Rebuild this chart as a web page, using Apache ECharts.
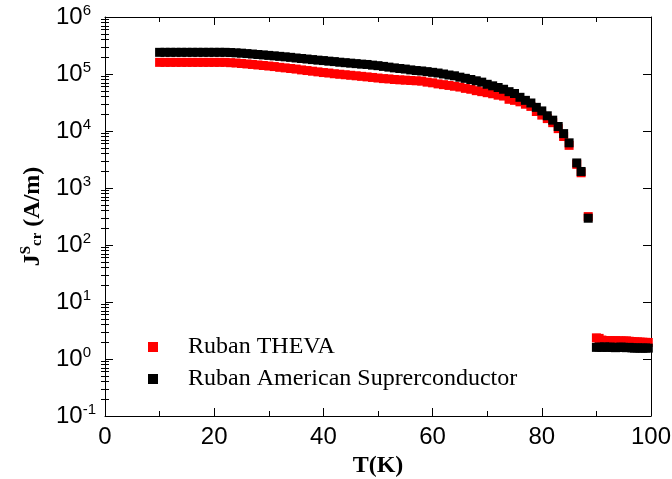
<!DOCTYPE html>
<html>
<head>
<meta charset="utf-8">
<script src="https://cdn.jsdelivr.net/npm/echarts@6/dist/echarts.min.js"></script>
<style>html,body{margin:0;padding:0;background:#fff}#c{width:672px;height:479px}</style>
</head>
<body>
<div id="c"></div>
<script>
// ---- data ----
const tempTheva = [10,11,12,13,14,15,16,17,18,19,20,21,22,23,24,25,26,27,28,29,30,31,32,33,34,35,36,37,38,39,40,41,42,43,44,45,46,47,48,49,50,51,52,53,54,55,56,57,58,59,60,61,62,63,64,65,66,67,68,69,70,71,72,73,74,75,76,77,78,79,80,81,82,83,84,85,86.4,87.2,88.5,90,90.5,91,91.5,92,92.5,93,93.5,94,94.5,95,95.5,96,96.5,97,97.5,98,98.5,99,99.5];
const jTheva = [160000,160000,160000,160000,160000,160000,160000,160000,160000,160000,160000,160000,160000,
  158000,156000,153000,150000,147000,144000,141000,138000,135000,131000,128000,125000,122000,118000,115000,112000,109000,106000,
  104000,101000,99000,97000,95000,93000,91000,89000,87000,85000,83000,82000,80000,79000,78000,77000,76000,75000,72000,70000,
  67000,65000,63000,61000,59000,56000,54000,51000,49000,47000,45000,42500,41000,36000,34500,32500,29500,27000,22000,19000,
  16500,14000,11000,8000,5600,2600,1850,315,
  2.35,2.3,2.15,2.1,2.1,2.1,2.08,2.1,2.08,2.08,2.06,2.08,2.05,2.03,2.0,2.0,1.98,1.97,1.96,1.95];
const tempAmsc = [10,11,12,13,14,15,16,17,18,19,20,21,22,23,24,25,26,27,28,29,30,31,32,33,34,35,36,37,38,39,40,41,42,43,44,45,46,47,48,49,50,51,52,53,54,55,56,57,58,59,60,61,62,63,64,65,66,67,68,69,70,71,72,73,74,75,76,77,78,79,80,81,82,83,84,85,86.4,87.2,88.5,90,90.5,91,91.5,92,92.5,93,93.5,94,94.5,95,95.5,96,96.5,97,97.5,98,98.5,99,99.5];
const jAmsc = [240000,240000,240000,240000,240000,240000,240000,240000,240000,240000,240000,240000,240000,
  238000,235000,232000,228000,224000,220000,216000,212000,208000,204000,200000,196000,191000,187000,183000,179000,175000,172000,
  168000,165000,161000,158000,155000,152000,149000,147000,143000,140000,136000,132000,128000,125000,122000,118000,115000,113000,110000,107000,
  104000,100000,96000,93000,88000,84000,80000,76000,72000,66000,62000,58000,54000,49000,45500,39000,34500,31000,26000,22500,
  18500,15500,12000,9000,6200,2750,1950,295,
  1.6,1.62,1.6,1.63,1.6,1.62,1.6,1.58,1.6,1.62,1.6,1.58,1.6,1.57,1.55,1.57,1.55,1.55,1.56,1.55];
const seriesNames = ['Ruban THEVA', 'Ruban American Suprerconductor'];
const xTickLabels = ['0','20','40','60','80','100'];
const minorMantissas = [2,3,4,5,6,7,8,9];

// ---- chart ----
const sans = 'Liberation Sans, Arial, sans-serif';
const serif = 'Liberation Serif, Times New Roman, serif';
const minorVals = [];
for (let e = -1; e < 6; e++) for (const m of minorMantissas) minorVals.push(m * Math.pow(10, e));

const pairs = (t, v) => t.map((x, i) => [x, v[i]]);

const chart = echarts.init(document.getElementById('c'), null, {renderer: 'canvas'});
chart.setOption({
  animation: false,
  grid: {left: 105, right: 21, top: 17, bottom: 63, outerBoundsMode: 'none'},
  xAxis: [
    {type: 'value', min: 0, max: 100, interval: 20, position: 'bottom',
     axisLine: {show: true, onZero: false, lineStyle: {color: '#000'}},
     axisTick: {show: true, inside: true, length: 8, lineStyle: {color: '#000'}},
     minorTick: {show: true, splitNumber: 2, length: 5, lineStyle: {color: '#000'}},
     splitLine: {show: false},
     axisLabel: {margin: 9, fontSize: 24, fontFamily: sans, color: '#000',
                 formatter: v => xTickLabels[Math.round(v / 20)]},
     name: 'T(K)', nameLocation: 'middle', nameGap: 33,
     nameTextStyle: {fontFamily: serif, fontWeight: 'bold', fontSize: 24, color: '#000'}},
    {type: 'value', min: 0, max: 100, interval: 20, position: 'top',
     axisLine: {show: true, onZero: false, lineStyle: {color: '#000'}},
     axisTick: {show: true, inside: false, length: -8, lineStyle: {color: '#000'}},
     minorTick: {show: true, splitNumber: 2, length: -5, lineStyle: {color: '#000'}},
     splitLine: {show: false}, axisLabel: {show: false}}
  ],
  yAxis: [
    {type: 'log', min: 0.1, max: 1000000, splitNumber: 7, position: 'left',
     axisLine: {show: true, onZero: false, lineStyle: {color: '#000'}},
     axisTick: {show: true, inside: true, length: 8, lineStyle: {color: '#000'}},
     splitLine: {show: false},
     axisLabel: {margin: 49, align: 'left',
       formatter: v => '{b|10}{s|' + Math.round(Math.log10(v)) + '}',
       rich: {
         b: {fontSize: 24, fontFamily: sans, color: '#000', lineHeight: 24},
         s: {fontSize: 15, fontFamily: sans, color: '#000', lineHeight: 15, padding: [0, 0, 12, 0]}
       }},
     name: '{j|J}{sup|S}{sub|cr}{t| (A/m)}', nameLocation: 'middle', nameGap: 55, nameRotate: 90,
     nameTextStyle: {rich: {
       j: {fontFamily: serif, fontWeight: 'bold', fontSize: 24, color: '#000'},
       sup: {fontFamily: serif, fontWeight: 'bold', fontSize: 15, color: '#000', padding: [0, 0, 12, 0]},
       sub: {fontFamily: serif, fontWeight: 'bold', fontSize: 15, color: '#000', padding: [10, 0, 0, 0]},
       t: {fontFamily: serif, fontWeight: 'bold', fontSize: 24, color: '#000'}
     }}},
    {type: 'log', min: 0.1, max: 1000000, position: 'left',
     axisLine: {show: false},
     axisTick: {show: true, inside: true, length: 4, customValues: minorVals, lineStyle: {color: '#000'}},
     axisLabel: {show: false}, splitLine: {show: false}},
    {type: 'log', min: 0.1, max: 1000000, splitNumber: 7, position: 'right',
     axisLine: {show: true, onZero: false, lineStyle: {color: '#000'}},
     axisTick: {show: true, inside: false, length: -8, lineStyle: {color: '#000'}},
     axisLabel: {show: false}, splitLine: {show: false}},
    {type: 'log', min: 0.1, max: 1000000, position: 'right',
     axisLine: {show: false},
     axisTick: {show: true, inside: false, length: -4, customValues: minorVals, lineStyle: {color: '#000'}},
     axisLabel: {show: false}, splitLine: {show: false}}
  ],
  legend: {
    left: 143, top: 330, orient: 'vertical', itemWidth: 10, itemHeight: 10, itemGap: 8,
    data: [{name: seriesNames[0], icon: 'rect'}, {name: seriesNames[1], icon: 'rect'}],
    textStyle: {fontFamily: serif, fontSize: 24, color: '#000', lineHeight: 24, padding: [0, 0, 0, 25]}
  },
  series: [
    {name: seriesNames[0], type: 'scatter', symbol: 'rect', symbolSize: 9,
     itemStyle: {color: '#ff0000', opacity: 1}, data: pairs(tempTheva, jTheva)},
    {name: seriesNames[1], type: 'scatter', symbol: 'rect', symbolSize: 9,
     itemStyle: {color: '#000000', opacity: 1}, data: pairs(tempAmsc, jAmsc)}
  ]
});
</script>
</body>
</html>
